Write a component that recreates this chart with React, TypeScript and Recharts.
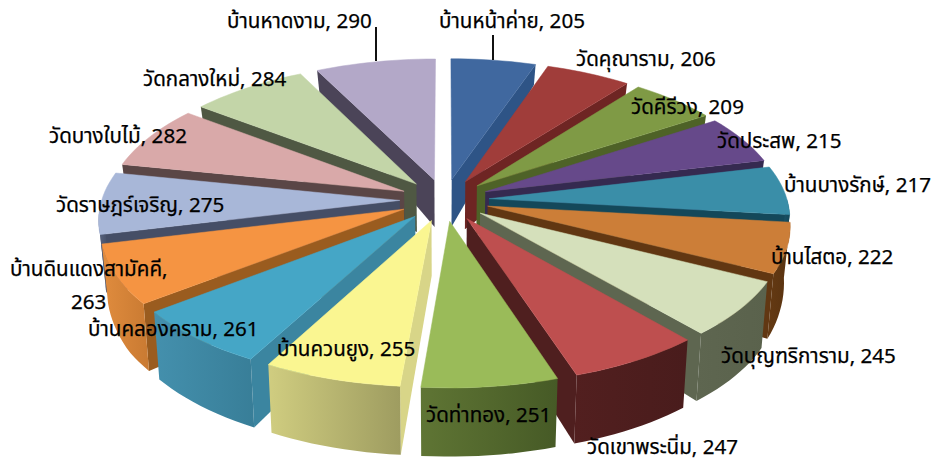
import React from 'react';
import { PieChart, Pie } from 'recharts';

const names = ['บ้านหน้าค่าย','วัดคุณาราม','วัดคีรีวง','วัดประสพ','บ้านบางรักษ์','บ้านไสตอ','วัดบุญฑริการาม','วัดเขาพระนิ่ม','วัดท่าทอง','บ้านควนยูง','บ้านคลองคราม','บ้านดินแดงสามัคคี','วัดราษฎร์เจริญ','วัดบางใบไม้','วัดกลางใหม่','บ้านหาดงาม'];
const values = [205,206,209,215,217,222,245,247,251,255,261,263,275,282,284,290];

const topColors = ['#40689F','#A03D3A','#7F9A45','#66498A','#3A8EA8','#CC7E38','#D5E0BB','#BE4F4F','#9ABB59','#FAF691','#45A6C6','#F59442','#A8B7D8','#D9A9A9','#C3D5A8','#B3A8C8'];
const radialColors = ['#2E5486','#6E2523','#4E6227','#352A50','#14485A','#613712','#5E6650','#4F1F1F','#4E6030','#D8D588','#3B85A0','#9A5C1F','#454E66','#5A4646','#4F5843','#4B4458'];
const outerLight = ['#2E5486','#6E2523','#4E6227','#352A50','#1C5468','#653A13','#5E6650','#521F1F','#5F7534','#D0CD80','#4490AD','#E08C3E','#5A6580','#6A5454','#5F6950','#58506A'];
const outerDark = ['#2E5486','#6E2523','#4E6227','#352A50','#14485A','#583210','#5A624C','#491C1C','#465A26','#9E9C60','#387E98','#C97A32','#454E66','#5A4646','#4F5843','#4B4458'];

// label anchors: left edge, baseline
const labelLeft = [439,576,631,717,784,771,721,587,426,277,88,10,56,49,143,227];
const labelBase = [28,66,114,148,192,264,363,454,422,356,336,276,212,143,86,28];

const rows = names.map((name, order) => ({ name, value: values[order], order }));
const rowsReversed = [...rows].reverse();

const FONT = '"Noto Sans Thai", "Noto Sans", "DejaVu Sans", sans-serif';
const EXPLODE = 0.15, PERSP = 0.123, SINK = 0.982;
const rad = (d: number) => (d * Math.PI) / 180;

function wallDepth(v: number) {
  return v < 0.55 ? 47 + (v + 0.15) * 28 : 66.6 + (v - 0.55) * 3.5;
}

function Slice3D(props: any) {
  const { cx, cy, outerRadius, startAngle, endAngle } = props;
  const order: number = props.order ?? props.payload?.order;
  if (props.side === 'A' && order > 8) return <g />;
  if (props.side === 'B' && order <= 8) return <g />;
  let lo = 90 - Math.max(startAngle, endAngle);
  let hi = 90 - Math.min(startAngle, endAngle);
  if (lo < 0) { lo += 360; hi += 360; }
  const mid = (lo + hi) / 2;
  const RX = outerRadius * 1.987, RY = outerRadius * 0.936;
  const ou = EXPLODE * Math.sin(rad(mid)), ov = -EXPLODE * Math.cos(rad(mid));
  const pt = (r: number, a: number, down: boolean) => {
    const u = ou + r * Math.sin(rad(a));
    const v = ov - r * Math.cos(rad(a));
    const s = 1 / (1 - PERSP * v);
    let x = cx + RX * u * s;
    let y = cy + RY * v * s;
    if (down) { x = cx + (x - cx) * SINK; y += wallDepth(v); }
    return `${x.toFixed(1)},${y.toFixed(1)}`;
  };
  const arc = (a: number, b: number, down: boolean) => {
    const out: string[] = [];
    const n = Math.max(2, Math.ceil(Math.abs(b - a) / 2));
    for (let i = 0; i <= n; i++) out.push(pt(1, a + ((b - a) * i) / n, down));
    return out;
  };
  const topPts = [pt(0, lo, false), ...arc(lo, hi, false)];
  const sl = Math.sin(rad(lo)), sh = Math.sin(rad(hi));
  const aFrom = Math.max(lo, 90), aTo = Math.min(hi, 270);
  const gid = `wall-${order}`;
  return (
    <g>
      <defs>
        <linearGradient id={gid} x1="0" y1="0" x2="1" y2="0">
          <stop offset="0" stopColor={outerLight[order]} />
          <stop offset="1" stopColor={outerDark[order]} />
        </linearGradient>
      </defs>
      {sl < 0 && (
        <polygon fill={radialColors[order]} points={[pt(0, lo, false), pt(1, lo, false), pt(1, lo, true), pt(0, lo, true)].join(' ')} />
      )}
      {sh > 0 && (
        <polygon fill={radialColors[order]} points={[pt(0, hi, false), pt(1, hi, false), pt(1, hi, true), pt(0, hi, true)].join(' ')} />
      )}
      {aFrom < aTo && (
        <polygon fill={`url(#${gid})`} points={[...arc(aFrom, aTo, false), ...arc(aTo, aFrom, true)].join(' ')} />
      )}
      <polygon fill={topColors[order]} stroke={topColors[order]} strokeWidth={0.5} points={topPts.join(' ')} />
    </g>
  );
}

function SliceLabel(props: any) {
  const order: number = props.index;
  const x = labelLeft[order], y = labelBase[order];
  const style = { fontFamily: FONT, fontSize: 20.6, fill: '#000', stroke: '#000', strokeWidth: 0.25 };
  const line = order === 0 ? [493, 35, 60] : order === 15 ? [376, 27, 61] : null;
  return (
    <g>
      {line && <line x1={line[0]} x2={line[0]} y1={line[1]} y2={line[2]} stroke="#111" strokeWidth={2} />}
      {order === 11 ? (
        <>
          <text x={x} y={y} style={style}>{names[order]},</text>
          <text x={71} y={309} style={style}>{values[order]}</text>
        </>
      ) : (
        <text x={x} y={y} style={style}>{`${names[order]}, ${values[order]}`}</text>
      )}
    </g>
  );
}

export default function App() {
  return (
    <div style={{ position: 'absolute', left: 0, top: 0, width: 936, height: 462, background: '#fff' }}>
      <PieChart width={936} height={462} margin={{ top: 0, right: 0, bottom: 0, left: 0 }}>
        <Pie data={rowsReversed} dataKey="value" cx={444.5} cy={200} outerRadius={150} startAngle={90} endAngle={450} stroke="none" isAnimationActive={false} shape={(p: any) => <Slice3D {...p} side="B" />} />
        <Pie data={rows} dataKey="value" cx={444.5} cy={200} outerRadius={150} startAngle={90} endAngle={-270} stroke="none" isAnimationActive={false} shape={(p: any) => <Slice3D {...p} side="A" />} />
        <Pie data={rows} dataKey="value" cx={444.5} cy={200} outerRadius={150} startAngle={90} endAngle={-270} stroke="none" isAnimationActive={false} shape={() => <g />} labelLine={false} label={(p: any) => <SliceLabel {...p} />} />
      </PieChart>
    </div>
  );
}
